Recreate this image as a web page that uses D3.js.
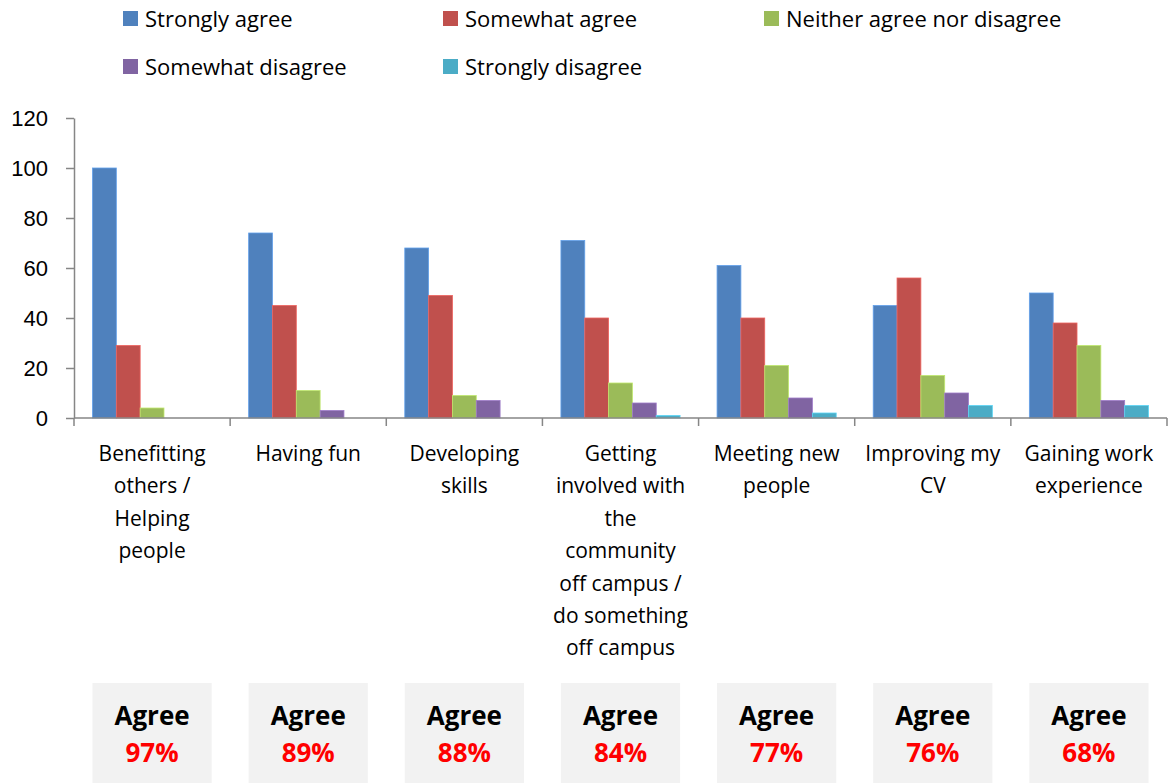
<!DOCTYPE html>
<html>
<head>
<meta charset="utf-8">
<script src="https://cdn.jsdelivr.net/npm/d3@7"></script>
<style>
  body { margin: 0; background: #fff; }
  svg { font-family: "Open Sans", "Liberation Sans", sans-serif; }
</style>
</head>
<body>
<svg width="1168" height="783"></svg>
<script>
// chart data
const categories = [
  "Benefitting others / Helping people",
  "Having fun",
  "Developing skills",
  "Getting involved with the community off campus / do something off campus",
  "Meeting new people",
  "Improving my CV",
  "Gaining work experience"
];
const categoryLines = [
  ["Benefitting", "others /", "Helping", "people"],
  ["Having fun"],
  ["Developing", "skills"],
  ["Getting", "involved with", "the", "community", "off campus /", "do something", "off campus"],
  ["Meeting new", "people"],
  ["Improving my", "CV"],
  ["Gaining work", "experience"]
];
const seriesNames = ["Strongly agree", "Somewhat agree", "Neither agree nor disagree", "Somewhat disagree", "Strongly disagree"];
const stronglyAgree    = [100, 74, 68, 71, 61, 45, 50];
const somewhatAgree    = [29, 45, 49, 40, 40, 56, 38];
const neither          = [4, 11, 9, 14, 21, 17, 29];
const somewhatDisagree = [0, 3, 7, 6, 8, 10, 7];
const stronglyDisagree = [0, 0, 0, 1, 2, 5, 5];
const agreeTotals = ["97%", "89%", "88%", "84%", "77%", "76%", "68%"];
const yTicks = [0, 20, 40, 60, 80, 100, 120];

const colors = ["#4F81BD", "#C0504D", "#9BBB59", "#8064A2", "#4BACC6"];
const allSeries = [stronglyAgree, somewhatAgree, neither, somewhatDisagree, stronglyDisagree];

// layout
const plotLeft = 74, plotRight = 1167, plotTop = 118, plotBottom = 418;
const svg = d3.select("svg");

const x0 = d3.scaleBand().domain(categories).range([plotLeft, plotRight]).padding(0);
const bw = x0.bandwidth();
const x1 = d3.scaleBand().domain(seriesNames).range([18.5, bw - 18.5]).padding(0);
const y = d3.scaleLinear().domain([0, 120]).range([plotBottom, plotTop]);

// bars
const groups = svg.append("g").attr("id", "bars")
  .selectAll("g")
  .data(categories)
  .join("g")
    .attr("transform", d => "translate(" + x0(d) + ",0)");

groups.selectAll("rect")
  .data((c, i) => seriesNames.map((s, j) => ({ s: s, v: allSeries[j][i], j: j })).filter(d => d.v > 0))
  .join("rect")
    .attr("x", d => x1(d.s))
    .attr("y", d => y(d.v))
    .attr("width", x1.bandwidth())
    .attr("height", d => y(0) - y(d.v))
    .attr("fill", d => colors[d.j])
    .attr("stroke", d => d3.color(colors[d.j]).brighter(0.6))
    .attr("stroke-width", 0.8);

// y axis
const yAxis = svg.append("g")
  .attr("transform", "translate(" + plotLeft + ",0)")
  .call(d3.axisLeft(y).tickValues(yTicks).tickSize(8).tickSizeOuter(0).tickPadding(18));
yAxis.select(".domain").attr("stroke", "#868686").attr("stroke-width", 1.5);
yAxis.selectAll(".tick line").attr("stroke", "#868686").attr("stroke-width", 1.5);
yAxis.selectAll("text").attr("font-size", "22px").attr("fill", "#000")
  .attr("font-family", "'Liberation Sans', sans-serif");

// x axis line + ticks at category boundaries
svg.append("line")
  .attr("x1", plotLeft).attr("x2", plotRight).attr("y1", plotBottom).attr("y2", plotBottom)
  .attr("stroke", "#868686").attr("stroke-width", 1.5);
const boundaries = categories.map(c => x0(c)).concat([plotRight]);
svg.append("g").selectAll("line")
  .data(boundaries)
  .join("line")
    .attr("x1", d => d).attr("x2", d => d)
    .attr("y1", plotBottom).attr("y2", plotBottom + 8)
    .attr("stroke", "#868686").attr("stroke-width", 1.5);

// category labels
svg.append("g").selectAll("text")
  .data(categories)
  .join("text")
    .attr("text-anchor", "middle")
    .attr("font-size", "21px")
    .attr("fill", "#000")
    .each(function(c, i) {
      const t = d3.select(this);
      categoryLines[i].forEach((line, k) => {
        t.append("tspan")
          .attr("x", x0(c) + bw / 2)
          .attr("y", 461 + k * 32.4)
          .text(line);
      });
    });

// legend
const legendPos = [[123, 19], [443, 19], [764, 19], [123, 67], [443, 67]];
const legend = svg.append("g").selectAll("g")
  .data(seriesNames)
  .join("g")
    .attr("transform", (d, i) => "translate(" + legendPos[i][0] + "," + legendPos[i][1] + ")");
legend.append("rect")
  .attr("x", 0).attr("y", -8).attr("width", 15).attr("height", 15)
  .attr("fill", (d, i) => colors[i]);
legend.append("text")
  .attr("x", 22).attr("y", 8)
  .attr("font-size", "22px")
  .attr("fill", "#000")
  .text(d => d);

// agree boxes
const boxes = svg.append("g").selectAll("g")
  .data(categories)
  .join("g")
    .attr("transform", d => "translate(" + (x0(d) + 18.5) + ",683)");
boxes.append("rect")
  .attr("width", bw - 37).attr("height", 100)
  .attr("fill", "#F2F2F2");
boxes.append("text")
  .attr("x", (bw - 37) / 2).attr("y", 42)
  .attr("text-anchor", "middle")
  .attr("font-size", "26px").attr("font-weight", "bold")
  .attr("fill", "#000")
  .text("Agree");
boxes.append("text")
  .attr("x", (bw - 37) / 2).attr("y", 79)
  .attr("text-anchor", "middle")
  .attr("font-size", "26px").attr("font-weight", "bold")
  .attr("fill", "#FF0000")
  .text((d, i) => agreeTotals[i]);
</script>
</body>
</html>
